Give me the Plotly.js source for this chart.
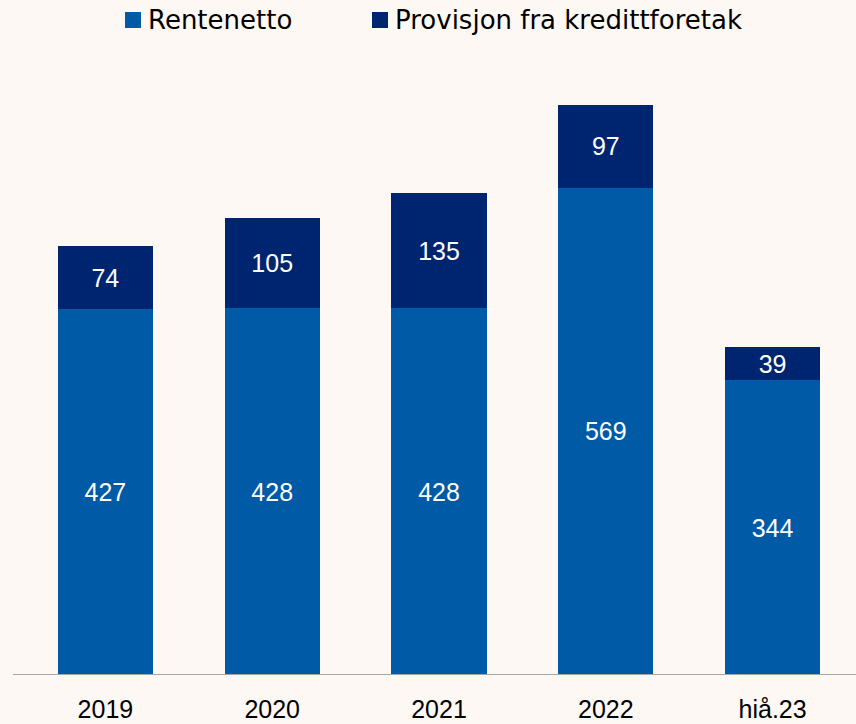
<!DOCTYPE html>
<html>
<head>
<meta charset="utf-8">
<script src="https://cdn.plot.ly/plotly-3.0.1.min.js"></script>
<style>html,body{margin:0;padding:0;background:#FDF8F4;}#chart{width:856px;height:724px;}</style>
</head>
<body>
<div id="chart"></div>
<script>
const categories = ["2019", "2020", "2021", "2022", "hiå.23"];
const rentenetto = [427, 428, 428, 569, 344];
const provisjon = [74, 105, 135, 97, 39];
const seriesNames = ["Rentenetto", "Provisjon fra kredittforetak"];
const seriesColors = ["#005AA5", "#002570"];

const font = "Liberation Sans, Arial, sans-serif";
const legendFont = "DejaVu Sans, sans-serif";

const data = [
  {
    type: "bar", name: seriesNames[0], x: categories, y: rentenetto,
    marker: {color: seriesColors[0]},
    text: rentenetto.map(String), textposition: "inside", insidetextanchor: "middle", textangle: 0,
    textfont: {color: "#FFFFFF", size: 25, family: font},
    hoverinfo: "none"
  },
  {
    type: "bar", name: seriesNames[1], x: categories, y: provisjon,
    marker: {color: seriesColors[1]},
    text: provisjon.map(String), textposition: "inside", insidetextanchor: "middle", textangle: 0,
    textfont: {color: "#FFFFFF", size: 25, family: font},
    hoverinfo: "none"
  }
];

// plot area geometry (pixels) used to place the custom legend
const W = 856, H = 724, ML = 22, MR = 0, MT = 60, MB = 49;
const PW = W - ML - MR, PH = H - MT - MB;
const px = v => (v - ML) / PW;
const py = v => (H - MB - v) / PH;

const legendItems = [
  {sq: [125, 141], textX: 146},
  {sq: [372, 388], textX: 393}
];
const shapes = [{type: "line", xref: "paper", yref: "y", x0: px(13), x1: 1, y0: 0, y1: 0,
                 line: {color: "#A6A6A6", width: 2}, layer: "above"}];
const annotations = [];
legendItems.forEach((it, i) => {
  shapes.push({type: "rect", xref: "paper", yref: "paper",
    x0: px(it.sq[0]), x1: px(it.sq[1]), y0: py(28), y1: py(12),
    fillcolor: seriesColors[i], line: {width: 0}});
  annotations.push({xref: "paper", yref: "paper", x: px(it.textX), y: py(20),
    xanchor: "left", yanchor: "middle", showarrow: false, text: seriesNames[i],
    font: {family: legendFont, size: 26, color: "#000000"}});
});

const layout = {
  width: W, height: H,
  paper_bgcolor: "#FDF8F4", plot_bgcolor: "#FDF8F4",
  barmode: "stack", bargap: 0.43,
  margin: {l: ML, r: MR, t: MT, b: MB, autoexpand: false},
  font: {family: font, color: "#000000", size: 25},
  uniformtext: {mode: "show", minsize: 25},
  showlegend: false,
  xaxis: {type: "category", range: [-0.5, 4.5], showgrid: false, zeroline: false,
          showline: false, ticks: "", tickfont: {size: 25, family: font}, ticklabelstandoff: 17, fixedrange: true},
  yaxis: {range: [0, 718], visible: false, showgrid: false, zeroline: false, fixedrange: true},
  shapes: shapes,
  annotations: annotations
};

Plotly.newPlot("chart", data, layout, {displayModeBar: false, staticPlot: true});
</script>
</body>
</html>
